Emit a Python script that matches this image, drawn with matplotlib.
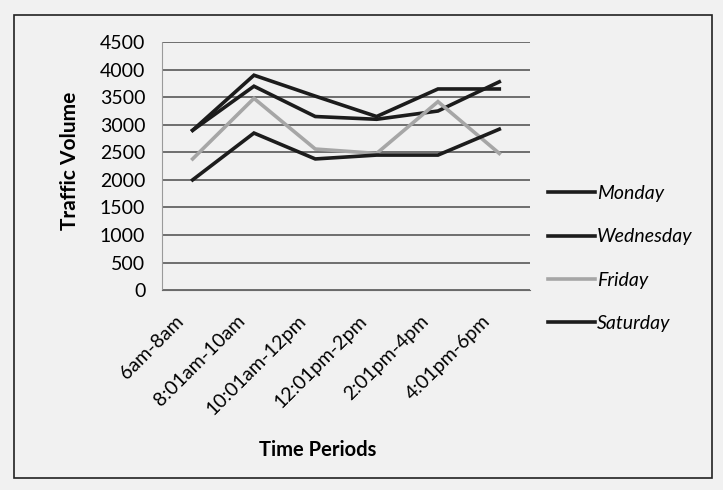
import matplotlib.pyplot as plt
from matplotlib.patches import Rectangle
from matplotlib.transforms import ScaledTranslation

periods = ["6am-8am", "8:01am-10am", "10:01am-12pm", "12:01pm-2pm", "2:01pm-4pm", "4:01pm-6pm"]
monday = [2900, 3900, 3520, 3150, 3650, 3650]
wednesday = [2900, 3700, 3150, 3100, 3250, 3780]
friday = [2380, 3480, 2560, 2480, 3420, 2480]
saturday = [2000, 2850, 2380, 2450, 2450, 2920]
yticks = list(range(0, 4501, 500))

series = [
    ("Monday", monday, "#1c1c1c"),
    ("Wednesday", wednesday, "#1c1c1c"),
    ("Friday", friday, "#a6a6a6"),
    ("Saturday", saturday, "#1c1c1c"),
]

plt.rcParams["font.family"] = ["Lato", "DejaVu Sans"]

fig = plt.figure(figsize=(7.23, 4.9), dpi=100, facecolor="#f1f1f1")
ax = fig.add_axes([0.224, 0.408, 0.509, 0.506])
ax.set_facecolor("none")

x = list(range(len(periods)))
for name, vals, col in series:
    ax.plot(x, vals, color=col, lw=2.6, label=name, solid_joinstyle="miter", zorder=3)

ax.set_xlim(-0.5, len(periods) - 0.5)
ax.set_ylim(0, 4500)
ax.set_yticks(yticks)
ax.set_yticklabels([str(v) for v in yticks], fontsize=14)
ax.set_xticks(x)
ax.set_xticklabels(periods, rotation=45, ha="right", rotation_mode="anchor", fontsize=14)
ax.tick_params(axis="y", length=0, pad=12)
ax.tick_params(axis="x", length=0, pad=16)
# nudge the slanted category labels a little to the left
shift = ScaledTranslation(-18 / 100, 0, fig.dpi_scale_trans)
for lbl in ax.get_xticklabels():
    lbl.set_transform(lbl.get_transform() + shift)

ax.grid(axis="y", color="#4a4a4a", lw=1.1, zorder=1)
for side in ["top", "right"]:
    ax.spines[side].set_visible(False)
ax.spines["left"].set_color("#9a9a9a")
ax.spines["left"].set_linestyle((0, (1, 1)))
ax.spines["bottom"].set_color("#6a6a6a")

fig.text(0.097, 0.672, "Traffic Volume", rotation=90, fontsize=15, fontweight="bold",
         ha="center", va="center")
fig.text(0.44, 0.082, "Time Periods", fontsize=14.5, fontweight="bold",
         ha="center", va="center")

fig.legend(loc="upper left", bbox_to_anchor=(0.758, 0.622), frameon=False,
           borderaxespad=0, borderpad=0,
           handlelength=2.4, handletextpad=0.1, labelspacing=1.35,
           prop={"size": 14, "style": "italic"})

fig.patches.append(Rectangle((0.02, 0.025), 0.965, 0.945, transform=fig.transFigure,
                             fill=False, ec="#222222", lw=1.2))

fig.savefig("out.png", dpi=100, facecolor=fig.get_facecolor())
